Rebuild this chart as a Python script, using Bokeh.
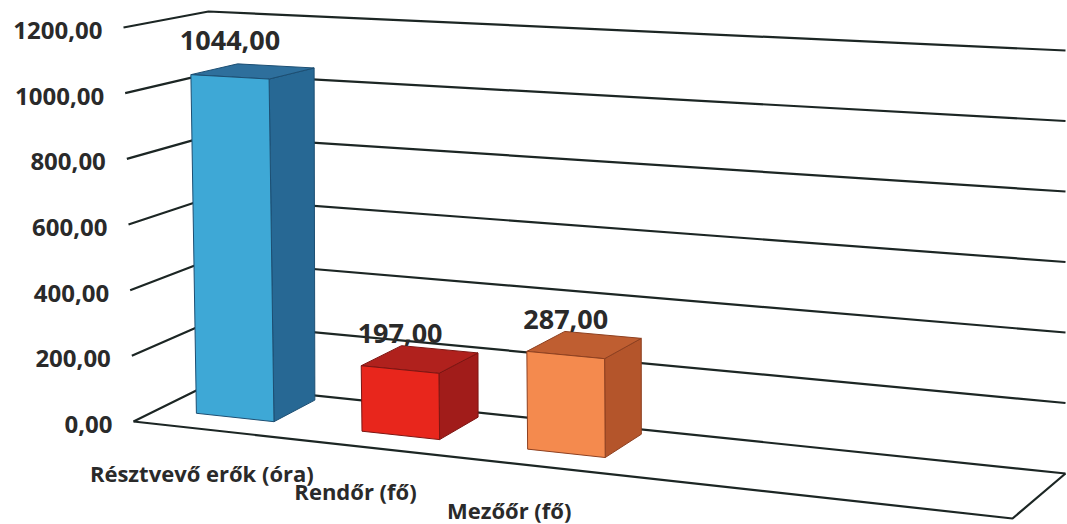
from bokeh.plotting import figure
from bokeh.models import Range1d
from bokeh.core.properties import value
from bokeh.embed import file_html
from bokeh.resources import INLINE

# ---------------- data ----------------
categories = ["Résztvevő erők (óra)", "Rendőr (fő)", "Mezőőr (fő)"]
values = [1044.0, 197.0, 287.0]
value_labels = ["1044,00", "197,00", "287,00"]
ticks = [0, 200, 400, 600, 800, 1000, 1200]
tick_labels = ["0,00", "200,00", "400,00", "600,00", "800,00", "1000,00", "1200,00"]

front_colors = ["#3ea8d6", "#e8261c", "#f48a4e"]
side_colors = ["#276894", "#a11c1a", "#b4552b"]
top_colors = ["#2e6f9c", "#b0211d", "#bf5e31"]
edge_colors = ["#1d4f73", "#7d1512", "#8e4020"]

# ---------------- 3D box (screen px) ----------------
VMAX = 1200.0
FL0 = (133, 421); BL0 = (208, 384); FR0 = (1012, 518); BR0 = (1065, 473)
FL1 = (123, 27);  BL1 = (208, 11);  FR1 = (1014, 72);  BR1 = (1065, 50)

T0, TSTEP, THALF = 0.088, 0.19, 0.0445   # category slot layout along the wall
D0, D1 = 0.333, 0.90                      # bar depth span


def lerp(a, b, s):
    return a + (b - a) * s


def lerp2(p, q, s):
    return (lerp(p[0], q[0], s), lerp(p[1], q[1], s))


def project(t, d, v):
    w = v / VMAX
    f0 = lerp2(FL0, FR0, t); b0 = lerp2(BL0, BR0, t)
    f1 = lerp2(FL1, FR1, t); b1 = lerp2(BL1, BR1, t)
    p0 = lerp2(f0, b0, d); p1 = lerp2(f1, b1, d)
    return lerp2(p0, p1, w)


W, H = 1067, 524
p = figure(width=W, height=H, x_range=Range1d(0, W), y_range=Range1d(H, 0),
           output_backend="svg", toolbar_location=None,
           x_axis_type=None, y_axis_type=None, min_border=0)
p.outline_line_color = None
p.background_fill_color = "white"
p.border_fill_color = "white"

GRID = "#1c2624"

# gridlines: left wall + back wall
gx, gy = [], []
for v in ticks:
    a = project(0, 0, v); b = project(0, 1, v); c = project(1, 1, v)
    gx.append([a[0], b[0], c[0]]); gy.append([a[1], b[1], c[1]])
# floor front and right edges
a = project(0, 0, 0); b = project(1, 0, 0); c = project(1, 1, 0)
gx.append([a[0], b[0], c[0]]); gy.append([a[1], b[1], c[1]])
p.multi_line(gx, gy, line_color=GRID, line_width=2.2)

# tick labels
tl_x, tl_y = [], []
for v in ticks:
    q = project(0, 0, v)
    tl_x.append(q[0] - 21); tl_y.append(q[1] + 3)
p.text(x=tl_x, y=tl_y, text=tick_labels, text_font=value("Open Sans"),
       text_font_style="bold", text_font_size="24px", text_align="right",
       text_baseline="middle", text_color="#2a2a2a")

# bars
for i, v in enumerate(values):
    tc = T0 + i * TSTEP
    ta, tb = tc - THALF, tc + THALF
    front = [project(ta, D0, 0), project(tb, D0, 0), project(tb, D0, v), project(ta, D0, v)]
    side = [project(tb, D0, 0), project(tb, D1, 0), project(tb, D1, v), project(tb, D0, v)]
    top = [project(ta, D0, v), project(tb, D0, v), project(tb, D1, v), project(ta, D1, v)]
    for poly, col in ((side, side_colors[i]), (top, top_colors[i]), (front, front_colors[i])):
        p.patch([q[0] for q in poly], [q[1] for q in poly], fill_color=col,
                line_color=edge_colors[i], line_width=1)

# value labels
vl_x, vl_y = [], []
for i, v in enumerate(values):
    q = project(T0 + i * TSTEP, D0, v)
    vl_x.append(q[0]); vl_y.append(q[1] - 36)
p.text(x=vl_x, y=vl_y, text=value_labels, text_font=value("Open Sans"),
       text_font_style="bold", text_font_size="27px", text_align="center",
       text_baseline="middle", text_color="#2a2a2a")

# category labels
px0 = project(T0, 0, 0)[0]
cl_x, cl_y = [], []
for i in range(len(categories)):
    q = project(T0 + i * TSTEP, 0, 0)
    cl_x.append(q[0] - 9 - (q[0] - px0) * 0.08); cl_y.append(q[1] + 43)
p.text(x=cl_x, y=cl_y, text=categories, text_font=value("Open Sans"),
       text_font_style="bold", text_font_size="22px", text_align="center",
       text_baseline="middle", text_color="#2a2a2a")

open("out.html", "w").write(file_html(p, INLINE))
